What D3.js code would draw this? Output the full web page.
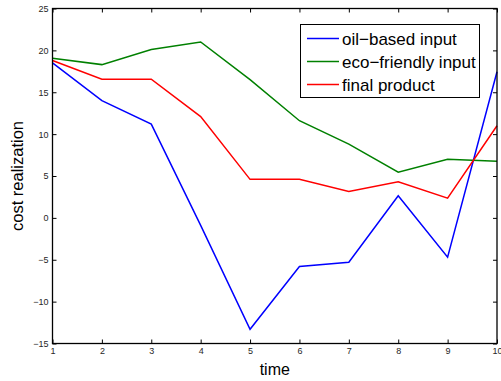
<!DOCTYPE html>
<html>
<head>
<meta charset="utf-8">
<script src="https://cdn.jsdelivr.net/npm/d3@7"></script>
<style>
  html, body { margin: 0; padding: 0; background: #fff; }
  svg { display: block; font-family: "Liberation Sans", Arial, Helvetica, sans-serif; }
</style>
</head>
<body>
<svg id="chart" width="501" height="381"></svg>
<script>
// Time steps and the three cost series
const time = [1, 2, 3, 4, 5, 6, 7, 8, 9, 10];
const oilBased = [18.5, 14.0, 11.2, -0.9, -13.3, -5.8, -5.3, 2.65, -4.7, 17.45];
const ecoFriendly = [19.05, 18.3, 20.1, 21.0, 16.5, 11.6, 8.8, 5.45, 7.0, 6.75];
const finalProduct = [18.8, 16.55, 16.55, 12.1, 4.6, 4.6, 3.15, 4.3, 2.35, 11.0];

const seriesNames = ["oil\u2212based input", "eco\u2212friendly input", "final product"];
const seriesColors = ["#0000ff", "#008000", "#ff0000"];
const seriesValues = [oilBased, ecoFriendly, finalProduct];

const xTicks = [1, 2, 3, 4, 5, 6, 7, 8, 9, 10];
const yTicks = [-15, -10, -5, 0, 5, 10, 15, 20, 25];

const svg = d3.select("#chart");
const plotL = 52.5, plotR = 497, plotT = 8.5, plotB = 343.5;

const x = d3.scaleLinear().domain([1, 10]).range([plotL, plotR]);
const y = d3.scaleLinear().domain([-15, 25]).range([plotB, plotT]);

// Data lines
const line = d3.line().x((d, i) => x(time[i])).y(d => y(d));
seriesValues.forEach((vals, k) => {
  svg.append("path")
    .datum(vals)
    .attr("d", line)
    .attr("fill", "none")
    .attr("stroke", seriesColors[k])
    .attr("stroke-width", 1.5)
    .attr("stroke-linejoin", "miter");
});

// Axes with inward ticks on all four sides
const tickLen = 4;
const styleAxis = g => {
  g.select(".domain").remove();
  g.selectAll(".tick line").attr("stroke", "#000").attr("stroke-width", 1);
  g.selectAll(".tick text").attr("fill", "#262626").style("font-size", "9px");
};

svg.append("g")
  .attr("transform", `translate(0,${plotB})`)
  .call(d3.axisBottom(x).tickValues(xTicks).tickSize(-tickLen).tickPadding(4).tickFormat(d3.format("d")))
  .call(styleAxis);

svg.append("g")
  .attr("transform", `translate(0,${plotT})`)
  .call(d3.axisTop(x).tickValues(xTicks).tickSize(-tickLen).tickFormat(""))
  .call(styleAxis);

svg.append("g")
  .attr("transform", `translate(${plotL},0)`)
  .call(d3.axisLeft(y).tickValues(yTicks).tickSize(-tickLen).tickPadding(4)
    .tickFormat(d => d3.format("d")(d).replace("-", "\u2212")))
  .call(styleAxis);

svg.append("g")
  .attr("transform", `translate(${plotR},0)`)
  .call(d3.axisRight(y).tickValues(yTicks).tickSize(-tickLen).tickFormat(""))
  .call(styleAxis);

// Plot box
svg.append("rect")
  .attr("x", plotL).attr("y", plotT)
  .attr("width", plotR - plotL).attr("height", plotB - plotT)
  .attr("fill", "none").attr("stroke", "#000").attr("stroke-width", 1.3);

// Axis titles
svg.append("text")
  .attr("x", (plotL + plotR) / 2).attr("y", 375)
  .attr("text-anchor", "middle")
  .style("font-size", "16px")
  .text("time");

svg.append("text")
  .attr("transform", `translate(23,${(plotT + plotB) / 2}) rotate(-90)`)
  .attr("text-anchor", "middle")
  .style("font-size", "16.5px")
  .text("cost realization");

// Legend
const lg = svg.append("g");
lg.append("rect")
  .attr("x", 300.5).attr("y", 24.5)
  .attr("width", 179).attr("height", 73)
  .attr("fill", "#fff").attr("stroke", "#000").attr("stroke-width", 1);
seriesNames.forEach((name, k) => {
  const cy = 38.5 + k * 23;
  lg.append("line")
    .attr("x1", 307).attr("x2", 339)
    .attr("y1", cy).attr("y2", cy)
    .attr("stroke", seriesColors[k]).attr("stroke-width", 1.5);
  lg.append("text")
    .attr("x", 342).attr("y", cy + 6)
    .style("font-size", "17px")
    .text(name);
});
</script>
</body>
</html>
